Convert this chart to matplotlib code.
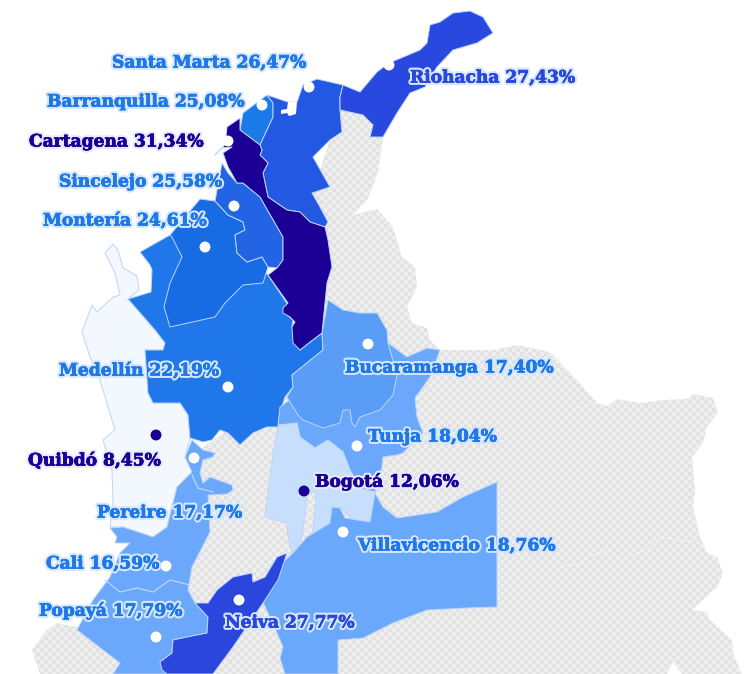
import numpy as np
import matplotlib
matplotlib.use("Agg")
import matplotlib.pyplot as plt
import matplotlib.patheffects as pe
from matplotlib.patches import Polygon

# everything is in picture pixels, y going down
W, H = 755, 674

ciudades = ["Santa Marta", "Riohacha", "Barranquilla", "Cartagena", "Sincelejo", "Montería",
            "Medellín", "Bucaramanga", "Tunja", "Quibdó", "Bogotá", "Pereire",
            "Villavicencio", "Cali", "Popayá", "Neiva"]
valores = ["26,47", "27,43", "25,08", "31,34", "25,58", "24,61",
           "22,19", "17,40", "18,04", "8,45", "12,06", "17,17",
           "18,76", "16,59", "17,79", "27,77"]
puntos_x = [309, 389, 262, 228, 234, 205, 228, 368, 357, 156, 304, 194, 343, 166, 156, 239]
puntos_y = [87, 65, 105, 141, 206, 247, 387, 344, 446, 435, 491, 458, 532, 566, 637, 600]
etiq_x = [112, 410, 47, 29, 59, 43, 59, 345, 368, 28, 315, 97, 358, 46, 39, 225]
etiq_y = [63, 78, 102, 142, 182, 221, 371, 368, 437, 461, 482, 513, 546, 564, 611, 623]

OSCURO = "#1c0095"
color_etiq = ["#1f78e8", "#2a48dc", "#1f78e8", OSCURO, "#1f78e8", "#1f78e8",
              "#1f78e8", "#1f78e8", "#1f78e8", OSCURO, OSCURO, "#1f78e8",
              "#1f78e8", "#1f78e8", "#1f78e8", "#2a48dc"]
color_punto = ["white"] * 16
color_punto[9] = OSCURO
color_punto[10] = OSCURO

# silueta gris del pais
pais = [(340, 110), (363, 115), (373, 125), (370, 137), (383, 137), (378, 173), (367, 200), (353, 215),
        (377, 209), (393, 227), (402, 257), (415, 267), (417, 287), (407, 307), (412, 323), (427, 328),
        (430, 340), (440, 350), (493, 350), (517, 345), (550, 352), (577, 380), (597, 403), (607, 406),
        (617, 399), (640, 403), (663, 400), (687, 399), (693, 394), (713, 398), (718, 412), (707, 427),
        (703, 443), (692, 457), (695, 490), (693, 507), (700, 537), (707, 553), (717, 557), (723, 573),
        (717, 587), (692, 610), (707, 612), (710, 620), (732, 640), (733, 653), (742, 674), (682, 674),
        (673, 662), (667, 674), (40, 674), (32, 650), (47, 630), (57, 623), (77, 627), (130, 600),
        (170, 560), (170, 500), (200, 450), (240, 420), (300, 340), (310, 200)]

choco = [(105, 253), (113, 244), (118, 250), (123, 268), (137, 276), (139, 290), (128, 299), (155, 330),
         (165, 343), (163, 350), (145, 350), (148, 393), (153, 403), (180, 403), (188, 415), (190, 438),
         (185, 457), (192, 472), (177, 487), (167, 527), (153, 537), (123, 527), (110, 527), (113, 503),
         (112, 470), (103, 440), (115, 430), (100, 380), (90, 357), (82, 332), (92, 305), (97, 312),
         (113, 297), (120, 295), (115, 273)]
antioquia = [(128, 299), (151, 292), (152, 270), (150, 265), (140, 252), (170, 235),
             (215, 240), (268, 275), (288, 305), (285, 313), (293, 320), (292, 327), (300, 350), (322, 333),
             (323, 350), (292, 375), (293, 387), (285, 397), (280, 413), (278, 427), (267, 427), (253, 433),
             (240, 445), (228, 433), (220, 430), (212, 440), (203, 442), (190, 438), (188, 415), (180, 403),
             (153, 403), (148, 393), (145, 350), (163, 350), (165, 343), (155, 330)]
cordoba = [(170, 235), (200, 199), (215, 201), (228, 215), (243, 222), (245, 230), (235, 235), (237, 253),
           (247, 262), (262, 257), (268, 267), (263, 283), (243, 285), (225, 303), (215, 317), (170, 327),
           (164, 307), (170, 283), (182, 257), (172, 237)]
sucre = [(215, 201), (222, 163), (228, 173), (237, 183), (243, 183), (260, 197), (283, 237), (283, 260),
         (277, 268), (268, 267), (262, 257), (247, 262), (237, 253), (235, 235), (245, 230), (243, 222),
         (228, 215)]
bolivar = [(227, 127), (240, 118), (240, 130), (260, 145), (262, 150), (260, 155), (268, 163), (263, 173), (268, 197),
           (287, 210), (300, 212), (310, 222), (325, 227), (328, 240), (332, 267), (327, 283), (322, 333),
           (310, 342), (300, 350), (293, 343), (292, 327), (295, 322), (290, 317), (283, 313), (283, 308),
           (288, 303), (268, 275), (277, 268), (283, 260), (283, 237), (260, 197),
           (243, 183), (237, 183), (228, 167), (223, 153), (232, 147), (222, 148), (215, 155), (224, 146), (226, 137)]
atlantico = [(243, 113), (267, 95), (273, 103), (273, 117), (260, 145), (240, 130)]
magdalena = [(267, 95), (288, 102), (297, 102), (303, 85), (317, 79), (343, 85), (340, 97), (340, 110), (342, 132),
             (330, 140), (313, 157), (330, 187), (312, 193), (320, 207), (328, 222), (325, 227), (310, 222),
             (300, 212), (287, 210), (268, 197), (263, 173), (268, 163), (260, 155), (262, 150), (260, 145),
             (273, 117), (273, 103)]
guajira = [(343, 85), (360, 92), (377, 72), (389, 63), (420, 50), (427, 43), (430, 25), (440, 22), (453, 13),
           (470, 11), (483, 17), (493, 33), (477, 43), (453, 50), (437, 67), (425, 87), (410, 93), (397, 113),
           (383, 137), (370, 137), (373, 125), (363, 115), (340, 110), (340, 97)]
cienaga = [(281, 110), (287, 109), (288, 102), (297, 102), (296, 114), (289, 116), (287, 113), (281, 114)]
boyaca = [(280, 407), (278, 425), (297, 423), (300, 437), (315, 448), (328, 440), (343, 452), (350, 470),
          (360, 488), (375, 492), (382, 467), (383, 457), (397, 455), (403, 453), (423, 433), (417, 417),
          (415, 398), (430, 377), (440, 350), (427, 348), (407, 357), (388, 343), (330, 370)]
santander = [(328, 300), (343, 310), (360, 313), (377, 313), (387, 330), (388, 343), (397, 375), (393, 395),
             (380, 410), (360, 417), (355, 427), (352, 423), (350, 410), (343, 410), (340, 423), (323, 428),
             (303, 420), (298, 415), (287, 397), (293, 387), (292, 375), (323, 350), (322, 333)]
cundinamarca = [(278, 427), (297, 423), (300, 437), (315, 448), (328, 440), (343, 452), (350, 470), (360, 488),
                (375, 492), (372, 522), (353, 520), (340, 507), (330, 510), (330, 525), (312, 537), (316, 500),
                (315, 492), (305, 494), (307, 500), (302, 537), (293, 557), (288, 537), (287, 523), (265, 517),
                (273, 453)]
meta = [(497, 482), (497, 607), (467, 608), (427, 610), (393, 623), (363, 638), (338, 640), (338, 674),
        (285, 674), (280, 658), (283, 647), (277, 633), (263, 602), (278, 567), (293, 553), (307, 537),
        (330, 523), (332, 507), (340, 508), (345, 518), (370, 522), (375, 493), (383, 507), (397, 518),
        (437, 512), (463, 497)]
huila = [(287, 553), (277, 557), (265, 577), (253, 582), (252, 573), (233, 577), (217, 590), (208, 603),
         (195, 603), (208, 617), (207, 633), (187, 637), (173, 640), (172, 653), (160, 662), (162, 670),
         (167, 674), (213, 674), (233, 647), (263, 603), (278, 580)]
valle = [(192, 472), (177, 487), (167, 527), (153, 537), (123, 527), (110, 528), (117, 537),
         (115, 543), (130, 543), (120, 553), (110, 577), (93, 600), (77, 630), (120, 663), (113, 674),
         (167, 674), (160, 662), (172, 653), (173, 640), (187, 637), (207, 633), (208, 617), (195, 603),
         (188, 590), (192, 567), (210, 532), (208, 495), (227, 494), (233, 490), (232, 485), (210, 477),
         (203, 483), (200, 473), (203, 460), (213, 457), (215, 453), (203, 450), (192, 440), (185, 457)]

regiones = [choco, valle, antioquia, cordoba, sucre, boyaca, santander, cundinamarca, meta,
            atlantico, magdalena, guajira, bolivar, huila]
colores = ["#f3f7fe", "#6ba8fb", "#1f77ea", "#186ce3", "#2264e4", "#6ba8fb", "#5a9df7", "#c8defd", "#6aa8fc",
           "#1a7ae8", "#2358e2", "#2848e0", "#1c0095", "#2a46dd"]

# lineas finas interiores
linea_valle = [(105, 580), (120, 592), (137, 588), (153, 592), (170, 580), (190, 585)]
linea_caldas = [(192, 475), (198, 488), (213, 492)]
lineas_gris = [[(560, 568), (583, 563), (587, 557), (610, 550), (620, 560), (647, 550), (660, 537), (693, 542), (700, 535)],
               [(563, 420), (577, 408), (597, 403)]]

fig = plt.figure(figsize=(W / 100, H / 100), dpi=100)
ax = fig.add_axes([0, 0, 1, 1])

# trama de cuadros para el gris
filas, cols = np.indices((H // 4 + 1, W // 4 + 1))
trama = (filas + cols) % 2
img = ax.imshow(trama, cmap=matplotlib.colors.ListedColormap(["#e2e2e2", "#eeeeee"]),
                extent=(0, (W // 4 + 1) * 4, (H // 4 + 1) * 4, 0), interpolation="bilinear", aspect="auto")
fondo = Polygon(pais, closed=True, fc="none", ec="none", transform=ax.transData)
ax.add_patch(fondo)
img.set_clip_path(fondo)

for l in lineas_gris:
    ax.plot(*zip(*l), color="white", lw=0.6, alpha=0.6)

for reg, col in zip(regiones, colores):
    ax.add_patch(Polygon(reg, closed=True, fc=col, ec="#bcd5fb", lw=0.7, joinstyle="round"))
ax.add_patch(Polygon(cienaga, closed=True, fc="white", ec="none"))
ax.plot(*zip(*linea_valle), color="#c5dcfb", lw=0.8)
ax.plot(*zip(*linea_caldas), color="#c5dcfb", lw=0.8)

ax.scatter(puntos_x, puntos_y, s=62, c=color_punto, linewidths=0, zorder=5)

for i, ciudad in enumerate(ciudades):
    halo = "#d5e6ff" if color_etiq[i] != OSCURO else "#e4ebff"
    t = ax.text(etiq_x[i], etiq_y[i], f"{ciudad} {valores[i]}%", color=color_etiq[i], fontsize=12.3,
                fontfamily="DejaVu Serif", fontweight="bold", va="center", ha="left", zorder=6)
    t.set_path_effects([pe.withStroke(linewidth=3.5, foreground=halo),
                        pe.withStroke(linewidth=0.5, foreground=color_etiq[i])])

ax.set_xlim(0, W)
ax.set_ylim(H, 0)
ax.axis("off")
fig.savefig("out.png", dpi=100, facecolor="white")
